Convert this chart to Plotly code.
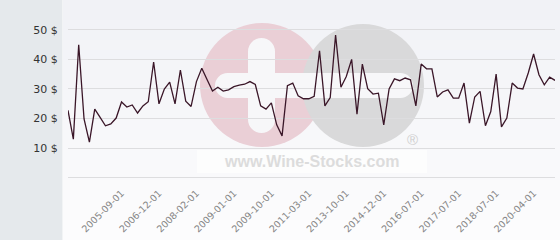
import plotly.graph_objects as go

# ---- data ----
prices = [22.8, 13.1, 44.9, 19.9, 12.1, 23.2, 20.4, 17.6, 18.2, 20.2,
          25.6, 23.9, 24.6, 21.9, 24.3, 25.7, 39.1, 25.0, 30.0, 32.3,
          25.0, 36.4, 25.9, 24.1, 32.5, 37.0, 33.1, 29.3, 30.6, 29.3,
          29.7, 30.8, 31.3, 31.6, 32.5, 31.5, 24.3, 23.2, 25.3, 17.9,
          14.2, 31.1, 32.0, 27.7, 26.7, 26.7, 27.5, 42.9, 24.3, 27.1,
          48.2, 30.6, 34.2, 40.0, 21.5, 38.4, 30.1, 28.3, 28.6, 17.9,
          30.0, 33.4, 32.8, 33.7, 33.1, 24.3, 38.4, 36.8, 36.8, 27.3,
          29.0, 29.7, 26.9, 26.9, 32.0, 18.5, 27.3, 29.2, 17.6, 22.4,
          35.0, 17.2, 20.2, 32.0, 30.3, 30.0, 35.4, 41.8, 34.8, 31.4,
          34.0, 32.9]
tick_positions = [10, 17, 24, 31, 38, 45, 52, 59, 66, 73, 80, 87]
tick_labels = ["2005-09-01", "2006-12-01", "2008-02-01", "2009-01-01",
               "2009-10-01", "2011-03-01", "2013-10-01", "2014-12-01",
               "2016-07-01", "2017-07-01", "2018-07-01", "2020-04-01"]
y_tick_values = [0, 10, 20, 30, 40, 50]
y_tick_labels = ["", "10 $", "20 $", "30 $", "40 $", "50 $"]

# ---- geometry helpers (pixel -> paper) ----
W, H = 560, 240
L, R, T, B = 68, 5, 0, 61
PW, PH = W - L - R, H - T - B


def px(x):
    return (x - L) / PW


def py(y):
    return (H - B - y) / PH


x_idx = list(range(len(prices)))

fig = go.Figure()
fig.add_trace(go.Scatter(
    x=x_idx, y=prices, mode="lines",
    line=dict(color="#3a1628", width=1.3),
    hoverinfo="skip", showlegend=False,
))

shapes = []
# background gradient (plot + label area)
n = 24
top_c = (241, 242, 246)
bot_c = (252, 252, 253)
for i in range(n):
    t = i / (n - 1)
    c = tuple(int(round(top_c[k] + (bot_c[k] - top_c[k]) * t)) for k in range(3))
    y0 = H * i / n
    y1 = H * (i + 1) / n
    shapes.append(dict(type="rect", xref="paper", yref="paper",
                       x0=px(63), x1=px(W), y0=py(y1), y1=py(y0),
                       fillcolor="rgb(%d,%d,%d)" % c, line=dict(width=0),
                       layer="below"))
# left gray panel
shapes.append(dict(type="rect", xref="paper", yref="paper",
                   x0=px(0), x1=px(62.5), y0=py(H), y1=py(0),
                   fillcolor="#e5e9ec", line=dict(width=0), layer="below"))


def circ(x0, y0, x1, y1, color, op=1.0):
    return dict(type="circle", xref="paper", yref="paper",
                x0=px(x0), x1=px(x1), y0=py(y1), y1=py(y0),
                fillcolor=color, opacity=op, line=dict(width=0), layer="below")


def rect(x0, y0, x1, y1, color, op=1.0):
    return dict(type="rect", xref="paper", yref="paper",
                x0=px(x0), x1=px(x1), y0=py(y1), y1=py(y0),
                fillcolor=color, opacity=op, line=dict(width=0), layer="below")


# watermark
shapes.append(rect(197, 150, 427, 173, "#ffffff", 0.6))
shapes.append(circ(200, 23, 324, 147, "#eacfd6"))
shapes.append(circ(302, 24, 424, 147, "#d9d9da"))
wb = "#f7f7f9"
shapes.append(rect(227.5, 73, 400.5, 98, wb))
shapes.append(circ(215, 73, 240, 98, wb))
shapes.append(circ(388, 73, 413, 98, wb))
shapes.append(rect(248, 51.5, 275, 119.5, wb))
shapes.append(circ(248, 38, 275, 65, wb))
shapes.append(circ(248, 106, 275, 133, wb))

annotations = [
    dict(xref="paper", yref="paper", x=px(311.5), y=py(161),
         text="www.Wine-Stocks.com", showarrow=False,
         font=dict(family="Liberation Sans, Arial", size=16, color="#dcdcdc",
                   weight="bold"),
         xanchor="center", yanchor="middle"),
    dict(xref="paper", yref="paper", x=px(412), y=py(139),
         text="®", showarrow=False,
         font=dict(family="Liberation Sans, Arial", size=15, color="#cfcfcf"),
         xanchor="center", yanchor="middle"),
]

fig.update_layout(
    width=W, height=H,
    margin=dict(l=L, r=R, t=T, b=B, pad=0),
    paper_bgcolor="#ffffff",
    plot_bgcolor="rgba(0,0,0,0)",
    shapes=shapes,
    annotations=annotations,
    xaxis=dict(range=[0, len(prices) - 1], tickmode="array",
               tickvals=tick_positions, ticktext=tick_labels,
               tickangle=-45, showgrid=False, zeroline=False,
               ticks="outside", ticklen=4, tickcolor="rgba(0,0,0,0)",
               tickfont=dict(family="DejaVu Sans", size=9.5, color="#858585")),
    yaxis=dict(range=[-0.35, 60], tickmode="array",
               tickvals=y_tick_values, ticktext=y_tick_labels,
               showgrid=True, gridcolor="#dddddf", gridwidth=1,
               zeroline=False, ticks="outside", ticklen=7,
               tickcolor="rgba(0,0,0,0)",
               tickfont=dict(family="DejaVu Sans", size=11, color="#333333")),
    font=dict(family="DejaVu Sans"),
)

fig.write_html("out.html")
